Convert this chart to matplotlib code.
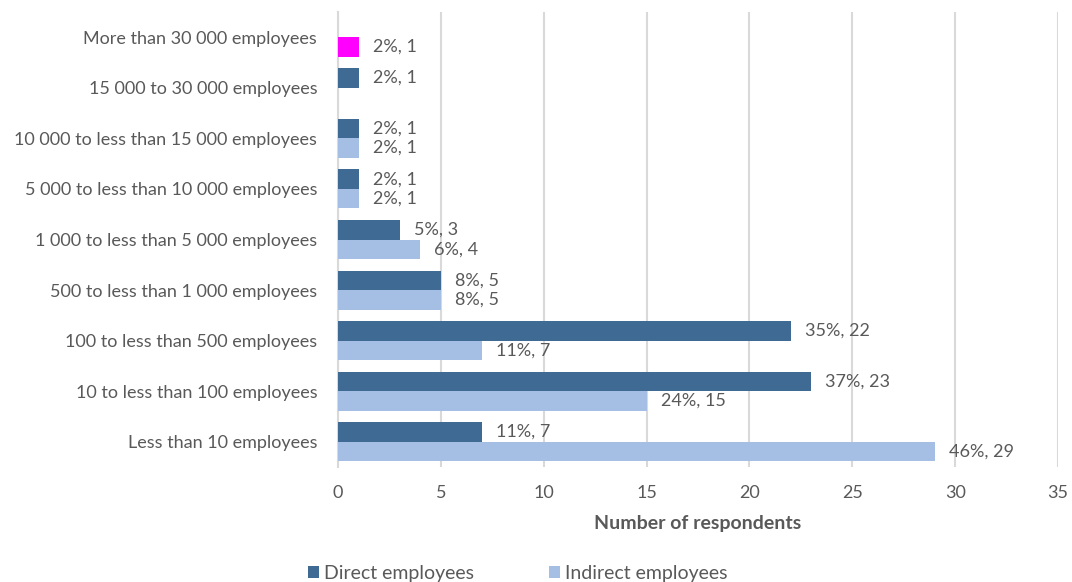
import matplotlib
matplotlib.use("Agg")
import matplotlib.pyplot as plt
import numpy as np
from matplotlib.patches import Patch

plt.rcParams['font.family'] = ['Lato', 'DejaVu Sans']

categories = [
    "More than 30 000 employees",
    "15 000 to 30 000 employees",
    "10 000 to less than 15 000 employees",
    "5 000 to less than 10 000 employees",
    "1 000 to less than 5 000 employees",
    "500 to less than 1 000 employees",
    "100 to less than 500 employees",
    "10 to less than 100 employees",
    "Less than 10 employees",
]
direct = [0, 1, 1, 1, 3, 5, 22, 23, 7]
indirect = [1, 0, 1, 1, 4, 5, 7, 15, 29]
direct_pct = [None, 2, 2, 2, 5, 8, 35, 37, 11]
indirect_pct = [2, None, 2, 2, 6, 8, 11, 24, 46]
x_ticks = [0, 5, 10, 15, 20, 25, 30, 35]

DARK = "#3E6A93"
LIGHT = "#A4BFE3"
HIGHLIGHT = "#FF00FF"
TEXT = "#595959"
GRID = "#D9D9D9"

fig = plt.figure(figsize=(10.72, 5.82), dpi=100)
ax = fig.add_axes([338 / 1072, 1 - 467 / 582, (1058 - 338) / 1072, (467 - 12) / 582])

y = np.arange(len(categories))
h = 0.385

indirect_colors = [HIGHLIGHT if i == 0 else LIGHT for i in range(len(categories))]

ax.barh(y - h / 2, direct, height=h, color=DARK, zorder=3)
ax.barh(y + h / 2, indirect, height=h, color=indirect_colors, zorder=3)

for yi, v, p in zip(y, direct, direct_pct):
    if p is not None and v > 0:
        ax.annotate(f"{p}%, {v}", (v, yi - h / 2), xytext=(14, 0),
                    textcoords="offset pixels", va="center", ha="left",
                    fontsize=13, color=TEXT)
for yi, v, p in zip(y, indirect, indirect_pct):
    if p is not None and v > 0:
        ax.annotate(f"{p}%, {v}", (v, yi + h / 2), xytext=(14, 0),
                    textcoords="offset pixels", va="center", ha="left",
                    fontsize=13, color=TEXT)

ax.set_xlim(0, 35)
ax.set_ylim(len(categories) - 0.5, -0.5)
ax.set_xticks(x_ticks)
ax.set_yticks(y)
ax.set_yticklabels(categories)

ax.xaxis.grid(True, color=GRID, linewidth=1.5, zorder=0)
ax.set_axisbelow(True)
for s in ["top", "right", "bottom"]:
    ax.spines[s].set_visible(False)
ax.spines["left"].set_color(GRID)
ax.spines["left"].set_linewidth(1.5)

ax.tick_params(axis="x", length=0, pad=13, labelsize=13, labelcolor=TEXT)
ax.tick_params(axis="y", length=0, pad=15, labelsize=13, labelcolor=TEXT)

ax.set_xlabel("Number of respondents", fontsize=14, fontweight="bold",
              color=TEXT, labelpad=10)

handles = [Patch(facecolor=DARK, label="Direct employees"),
           Patch(facecolor=LIGHT, label="Indirect employees")]
fig.legend(handles=handles, loc="center", bbox_to_anchor=(0.483, 0.015),
           ncol=2, frameon=False, fontsize=14, labelcolor=TEXT,
           handlelength=0.55, handleheight=0.55, handletextpad=0.25,
           columnspacing=3.9)

fig.savefig("out.png", dpi=100)
